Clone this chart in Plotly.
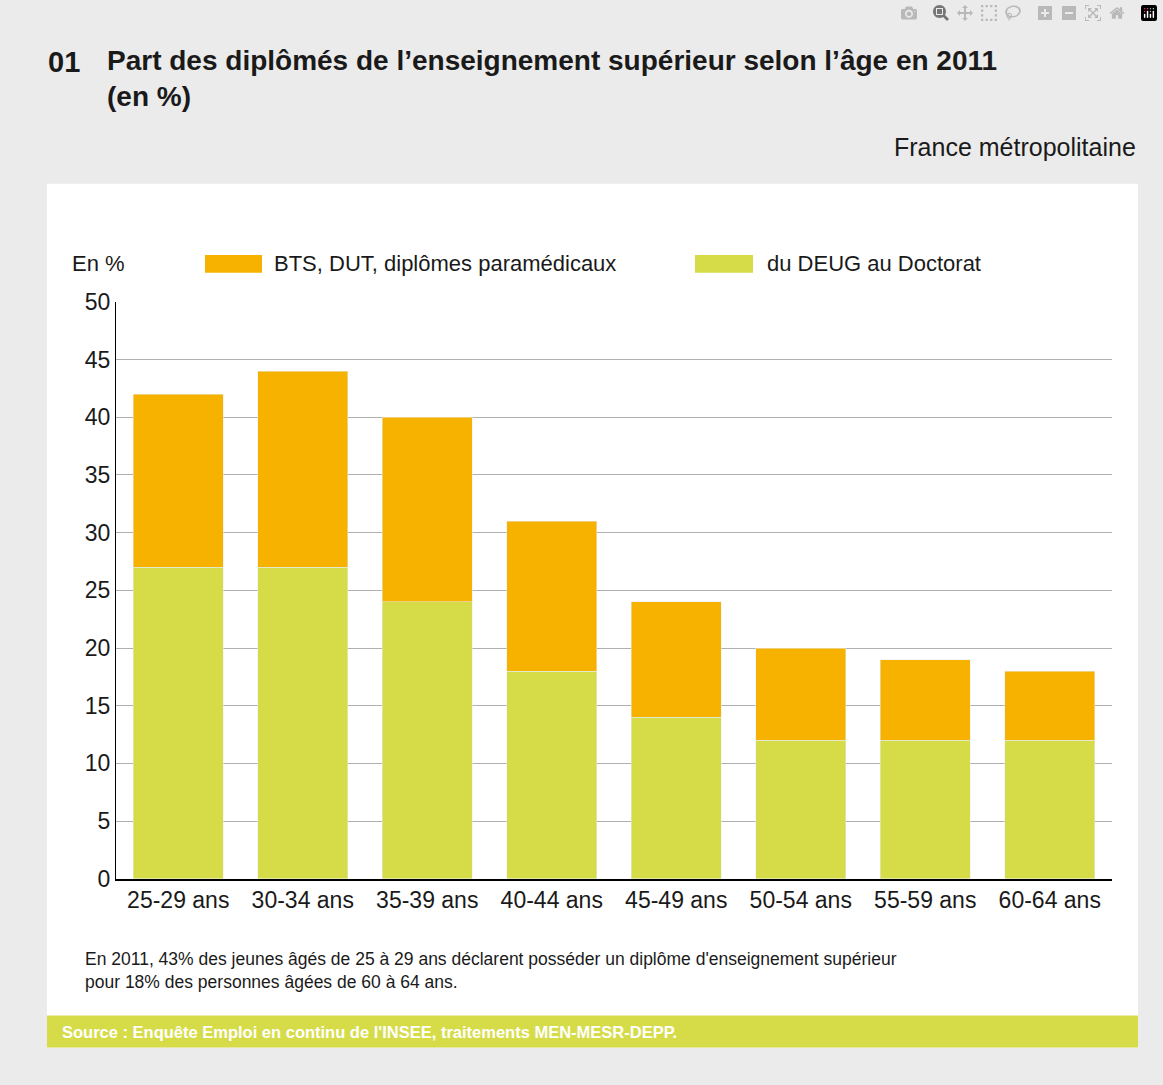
import plotly.graph_objects as go

ages = ["25-29 ans", "30-34 ans", "35-39 ans", "40-44 ans", "45-49 ans", "50-54 ans", "55-59 ans", "60-64 ans"]
deug_doctorat = [27, 27, 24, 18, 14, 12, 12, 12]
bts_dut = [15, 17, 16, 13, 10, 8, 7, 6]
y_ticks = [0, 5, 10, 15, 20, 25, 30, 35, 40, 45, 50]

ORANGE = "#f7b200"
GREEN = "#d6dc48"
FONT = "Liberation Sans, Arial"
W, H = 1163, 1085


def px(x):
    return x / W


def py(y):
    return 1 - y / H


fig = go.Figure()
fig.add_trace(go.Bar(x=ages, y=deug_doctorat, name="du DEUG au Doctorat", marker_color=GREEN, showlegend=False))
fig.add_trace(go.Bar(x=ages, y=bts_dut, name="BTS, DUT, diplômes paramédicaux", marker_color=ORANGE, showlegend=False))

shapes = [
    dict(type="rect", xref="paper", yref="paper", x0=px(47), x1=px(1138), y0=py(1060), y1=py(175),
         fillcolor="white", line_width=0, layer="below"),
    dict(type="rect", xref="paper", yref="paper", x0=px(47), x1=px(1138), y0=py(1060), y1=py(1027),
         fillcolor=GREEN, line_width=0),
    dict(type="rect", xref="paper", yref="paper", x0=px(205), x1=px(262), y0=py(266), y1=py(248),
         fillcolor=ORANGE, line_width=0),
    dict(type="rect", xref="paper", yref="paper", x0=px(695), x1=px(753), y0=py(266), y1=py(248),
         fillcolor=GREEN, line_width=0),
]

ann = [
    dict(text="<b>01</b>", x=px(46), y=py(50), xanchor="left", yanchor="middle", font=dict(size=29, color="#1a1a1a")),
    dict(text="<b>Part des diplômés de l’enseignement supérieur selon l’âge en 2011<br>(en %)</b>",
         x=px(105), y=py(31), xanchor="left", yanchor="top", align="left", font=dict(size=28, color="#1a1a1a")),
    dict(text="France métropolitaine", x=px(1138), y=py(137), xanchor="right", yanchor="middle",
         font=dict(size=25, color="#1a1a1a")),
    dict(text="En %", x=px(70), y=py(257), xanchor="left", yanchor="middle", font=dict(size=22, color="#1a1a1a")),
    dict(text="BTS, DUT, diplômes paramédicaux", x=px(272), y=py(257), xanchor="left", yanchor="middle",
         font=dict(size=22, color="#1a1a1a")),
    dict(text="du DEUG au Doctorat", x=px(765), y=py(257), xanchor="left", yanchor="middle",
         font=dict(size=22, color="#1a1a1a")),
    dict(text="En 2011, 43% des jeunes âgés de 25 à 29 ans déclarent posséder un diplôme d'enseignement supérieur<br>"
              "pour 18% des personnes âgées de 60 à 64 ans.",
         x=px(83), y=py(957), xanchor="left", yanchor="top", align="left",
         font=dict(size=17.5, color="#1a1a1a")),
    dict(text="<b>Source : Enquête Emploi en continu de l'INSEE, traitements MEN-MESR-DEPP.</b>",
         x=px(60), y=py(1044), xanchor="left", yanchor="middle", font=dict(size=16.5, color="white")),
]
for a in ann:
    a.update(xref="paper", yref="paper", showarrow=False)

fig.update_layout(
    width=W, height=H,
    margin=dict(l=0, r=0, t=0, b=0),
    paper_bgcolor="#ebebeb", plot_bgcolor="white",
    barmode="stack", bargap=0.28,
    font=dict(family=FONT, color="#1a1a1a"),
    shapes=shapes, annotations=ann,
    xaxis=dict(domain=[px(116), px(1112)], showline=True, linecolor="black", linewidth=2,
               tickfont=dict(size=23), ticks="", showgrid=False),
    yaxis=dict(domain=[py(887), py(296)], range=[0, 50], tickvals=y_ticks, showline=True,
               linecolor="black", linewidth=1, gridcolor="#b0b0b0", gridwidth=1,
               tickfont=dict(size=23), ticks="", zeroline=False),
)

fig.write_html("out.html", post_script="document.body.style.margin='0';")
